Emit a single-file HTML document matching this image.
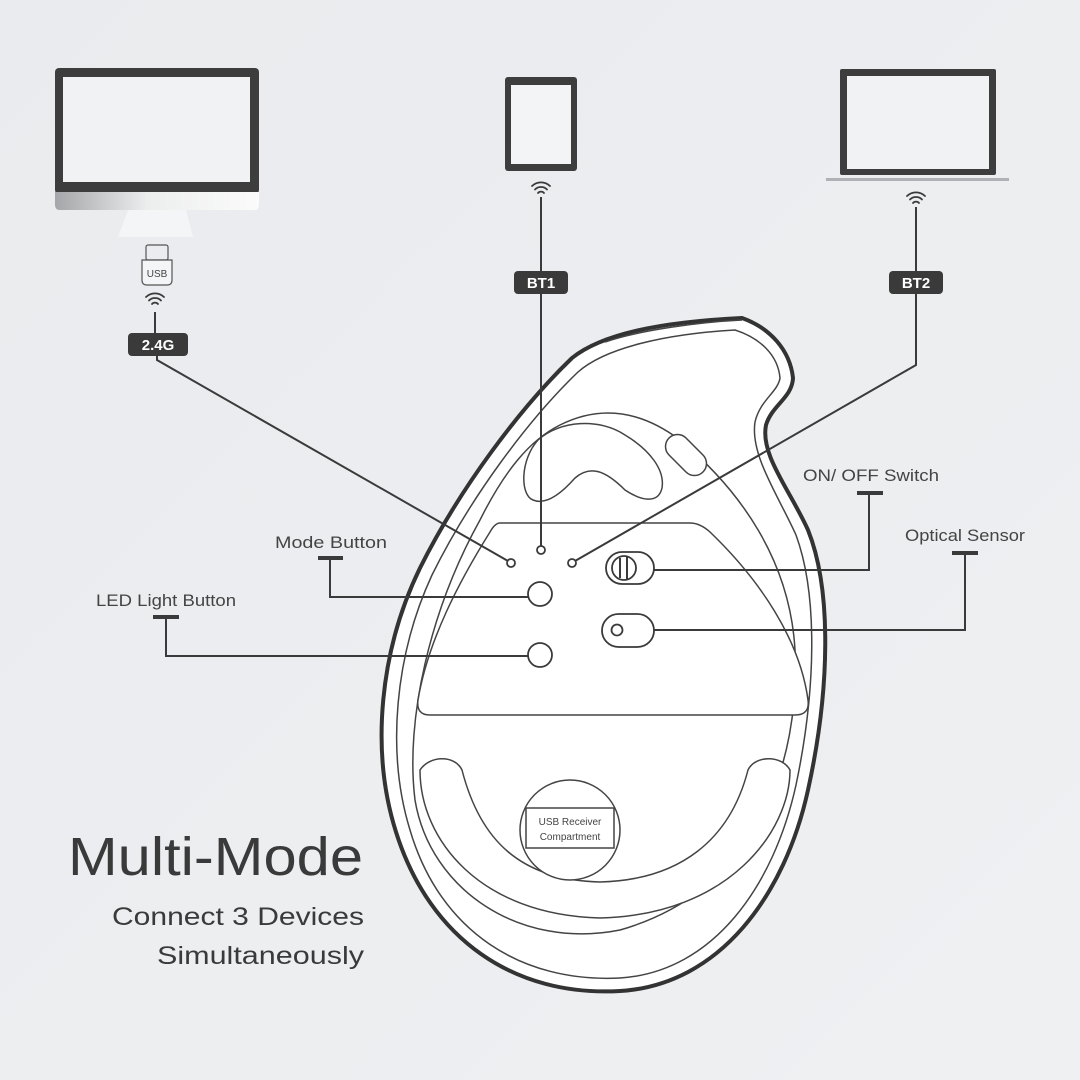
<!DOCTYPE html>
<html><head><meta charset="utf-8"><style>
html,body{margin:0;padding:0;width:1080px;height:1080px;overflow:hidden;background:#eceef1}
svg{display:block}
</style></head><body>
<svg width="1080" height="1080" viewBox="0 0 1080 1080" xmlns="http://www.w3.org/2000/svg">
<defs>
<linearGradient id="bg" x1="0" y1="0" x2="1" y2="1"><stop offset="0" stop-color="#e9ebee"/><stop offset="1" stop-color="#eef0f2"/></linearGradient>
<linearGradient id="chin" x1="0" x2="1"><stop offset="0" stop-color="#a5a6a9"/><stop offset="0.45" stop-color="#eceded"/><stop offset="1" stop-color="#fbfbfb"/></linearGradient>
</defs>
<rect width="1080" height="1080" fill="url(#bg)"/>

<!-- Monitor -->
<rect x="55" y="68" width="204" height="126" rx="4" fill="#3d3d3e"/>
<rect x="63" y="77" width="187" height="105" fill="#f1f2f4"/>
<path d="M55,192 H259 V205 Q259,210 254,210 H60 Q55,210 55,205 Z" fill="url(#chin)"/>
<path d="M128,210 H186 L193,237 H118 Z" fill="#f4f5f6"/>
<!-- USB dongle -->
<rect x="146" y="245" width="22" height="15" rx="2" fill="none" stroke="#555" stroke-width="1.2"/>
<path d="M142,260 H172 V280 Q172,285 167,285 H147 Q142,285 142,280 Z" fill="#f4f5f6" stroke="#555" stroke-width="1.2"/>
<text x="157" y="277" font-family="Liberation Sans, sans-serif" font-size="10" fill="#444" text-anchor="middle">USB</text>

<!-- Tablet -->
<rect x="505" y="77" width="72" height="94" rx="3" fill="#3d3d3e"/>
<rect x="511" y="85" width="60" height="79" fill="#f3f4f6"/>
<!-- Laptop -->
<rect x="840" y="69" width="156" height="106" rx="2" fill="#3d3d3e"/>
<rect x="847" y="76" width="142" height="93" fill="#f1f2f4"/>
<rect x="826" y="178" width="183" height="3" fill="#aeb2b6"/>

<!-- wifi icons -->
<g fill="none" stroke="#3a3a3a" stroke-width="1.8" stroke-linecap="round">
<g transform="translate(155,306)"><path d="M-9,-9 A13,13 0 0 1 9,-9"/><path d="M-6,-5.5 A8.5,8.5 0 0 1 6,-5.5"/><path d="M-3,-2 A4,4 0 0 1 3,-2"/></g>
<g transform="translate(541,195)"><path d="M-9,-9 A13,13 0 0 1 9,-9"/><path d="M-6,-5.5 A8.5,8.5 0 0 1 6,-5.5"/><path d="M-3,-2 A4,4 0 0 1 3,-2"/></g>
<g transform="translate(916,205)"><path d="M-9,-9 A13,13 0 0 1 9,-9"/><path d="M-6,-5.5 A8.5,8.5 0 0 1 6,-5.5"/><path d="M-3,-2 A4,4 0 0 1 3,-2"/></g>
</g>

<!-- Mouse -->
<path d="M742,318 C770,328 790,350 793,378 C792,398 772,405 766,425 C760,455 790,490 808,530 C832,590 830,690 808,790 C785,895 720,985 620,991 C515,997 430,940 396,832 C370,750 380,650 420,568 C460,488 520,408 572,358 C602,334 660,322 742,318 Z" fill="#fff" stroke="#333" stroke-width="4"/>
<path d="M735,330 C760,338 778,355 780,378 C778,392 760,400 755,422 C750,455 778,495 796,535 C818,595 816,690 796,785 C774,885 714,972 620,978 C522,983 440,932 410,830 C386,752 395,655 432,575 C470,498 528,420 578,372 C605,348 665,334 735,330 Z" fill="none" stroke="#444" stroke-width="1.5"/>
<path d="M605,342 C640,330 700,322 742,320" fill="none" stroke="#444" stroke-width="1.5"/>
<!-- inner big outline -->
<path d="M560,425 C600,405 640,410 680,440 C740,490 790,560 795,650 C800,760 760,890 620,930 C520,950 430,890 415,800 C405,720 430,610 480,520 C505,470 530,440 560,425 Z" fill="none" stroke="#444" stroke-width="1.5"/>
<!-- top pads -->
<path d="M538,440 C560,420 600,418 625,435 C650,450 665,470 662,488 C658,505 640,500 625,490 C605,470 590,465 575,478 C560,495 545,505 533,500 C520,495 520,460 538,440 Z" fill="#fff" stroke="#444" stroke-width="1.5"/>
<rect x="662" y="443" width="48" height="24" rx="12" transform="rotate(45 686 455)" fill="#fff" stroke="#444" stroke-width="1.5"/>
<!-- panel -->
<path d="M500,523 H690 Q700,523 710,532 C760,580 800,640 808,700 Q810,715 795,715 H430 Q416,715 418,700 C428,640 460,580 490,532 Q495,523 500,523 Z" fill="#fff" stroke="#444" stroke-width="1.5"/>
<!-- feet -->
<path d="M420,770 C430,755 455,755 462,770 C480,840 520,880 600,882 C680,880 730,840 748,770 C755,755 782,755 790,770 C790,830 730,915 600,918 C480,915 420,840 420,770 Z" fill="#fff" stroke="#444" stroke-width="1.5"/>
<circle cx="570" cy="830" r="50" fill="#fff" stroke="#444" stroke-width="1.5"/>
<rect x="526" y="808" width="88" height="40" fill="#fff" stroke="#444" stroke-width="1.5"/>
<text x="570" y="825" font-family="Liberation Sans, sans-serif" font-size="10" fill="#444" text-anchor="middle">USB Receiver</text>
<text x="570" y="840" font-family="Liberation Sans, sans-serif" font-size="10" fill="#444" text-anchor="middle">Compartment</text>

<!-- connectors -->
<g fill="none" stroke="#3a3a3a" stroke-width="2">
<path d="M155,312 V333"/>
<path d="M157,356 V360 L508,561"/>
<path d="M541,197 V272"/>
<path d="M541,294 V546"/>
<path d="M916,207 V272"/>
<path d="M916,294 V365 L575,561"/>
<path d="M869,493 V570 H652"/>
<path d="M965,553 V630 H652"/>
<path d="M330,558 V597 H528"/>
<path d="M166,617 V656 H528"/>
</g>
<g stroke="#3a3a3a" stroke-width="4">
<path d="M857,493 H883"/><path d="M952,553 H978"/><path d="M318,558 H343"/><path d="M153,617 H179"/>
</g>
<!-- dots & buttons -->
<g fill="#fff" stroke="#3a3a3a" stroke-width="1.8">
<circle cx="511" cy="563" r="4"/><circle cx="541" cy="550" r="4"/><circle cx="572" cy="563" r="4"/>
<circle cx="540" cy="594" r="12"/><circle cx="540" cy="655" r="12"/>
<rect x="606" y="552" width="48" height="32" rx="16"/>
<circle cx="624" cy="568" r="12"/>
<rect x="602" y="614" width="52" height="33" rx="16.5"/>
<circle cx="617" cy="630" r="5.5"/>
</g>
<path d="M620,558 V578 M627,557 V579" stroke="#3a3a3a" stroke-width="2"/>

<!-- labels -->
<g font-family="Liberation Sans, sans-serif" font-weight="bold" font-size="15" fill="#fff" text-anchor="middle">
<rect x="128" y="333" width="60" height="23" rx="4" fill="#3a3a3a"/><text x="158" y="350">2.4G</text>
<rect x="514" y="271" width="54" height="23" rx="4" fill="#3a3a3a"/><text x="541" y="288">BT1</text>
<rect x="889" y="271" width="54" height="23" rx="4" fill="#3a3a3a"/><text x="916" y="288">BT2</text>
</g>
<g font-family="Liberation Sans, sans-serif" font-size="17" fill="#444">
<text x="803" y="481" textLength="136" lengthAdjust="spacingAndGlyphs">ON/ OFF Switch</text>
<text x="905" y="541" textLength="120" lengthAdjust="spacingAndGlyphs">Optical Sensor</text>
<text x="275" y="548" textLength="112" lengthAdjust="spacingAndGlyphs">Mode Button</text>
<text x="96" y="606" textLength="140" lengthAdjust="spacingAndGlyphs">LED Light Button</text>
</g>
<g font-family="Liberation Sans, sans-serif" fill="#3a3a3a">
<text x="68" y="875" font-size="54" textLength="295" lengthAdjust="spacingAndGlyphs">Multi-Mode</text>
<text x="112" y="925" font-size="25" textLength="252" lengthAdjust="spacingAndGlyphs">Connect 3 Devices</text>
<text x="157" y="964" font-size="25" textLength="207" lengthAdjust="spacingAndGlyphs">Simultaneously</text>
</g>
</svg>
</body></html>
